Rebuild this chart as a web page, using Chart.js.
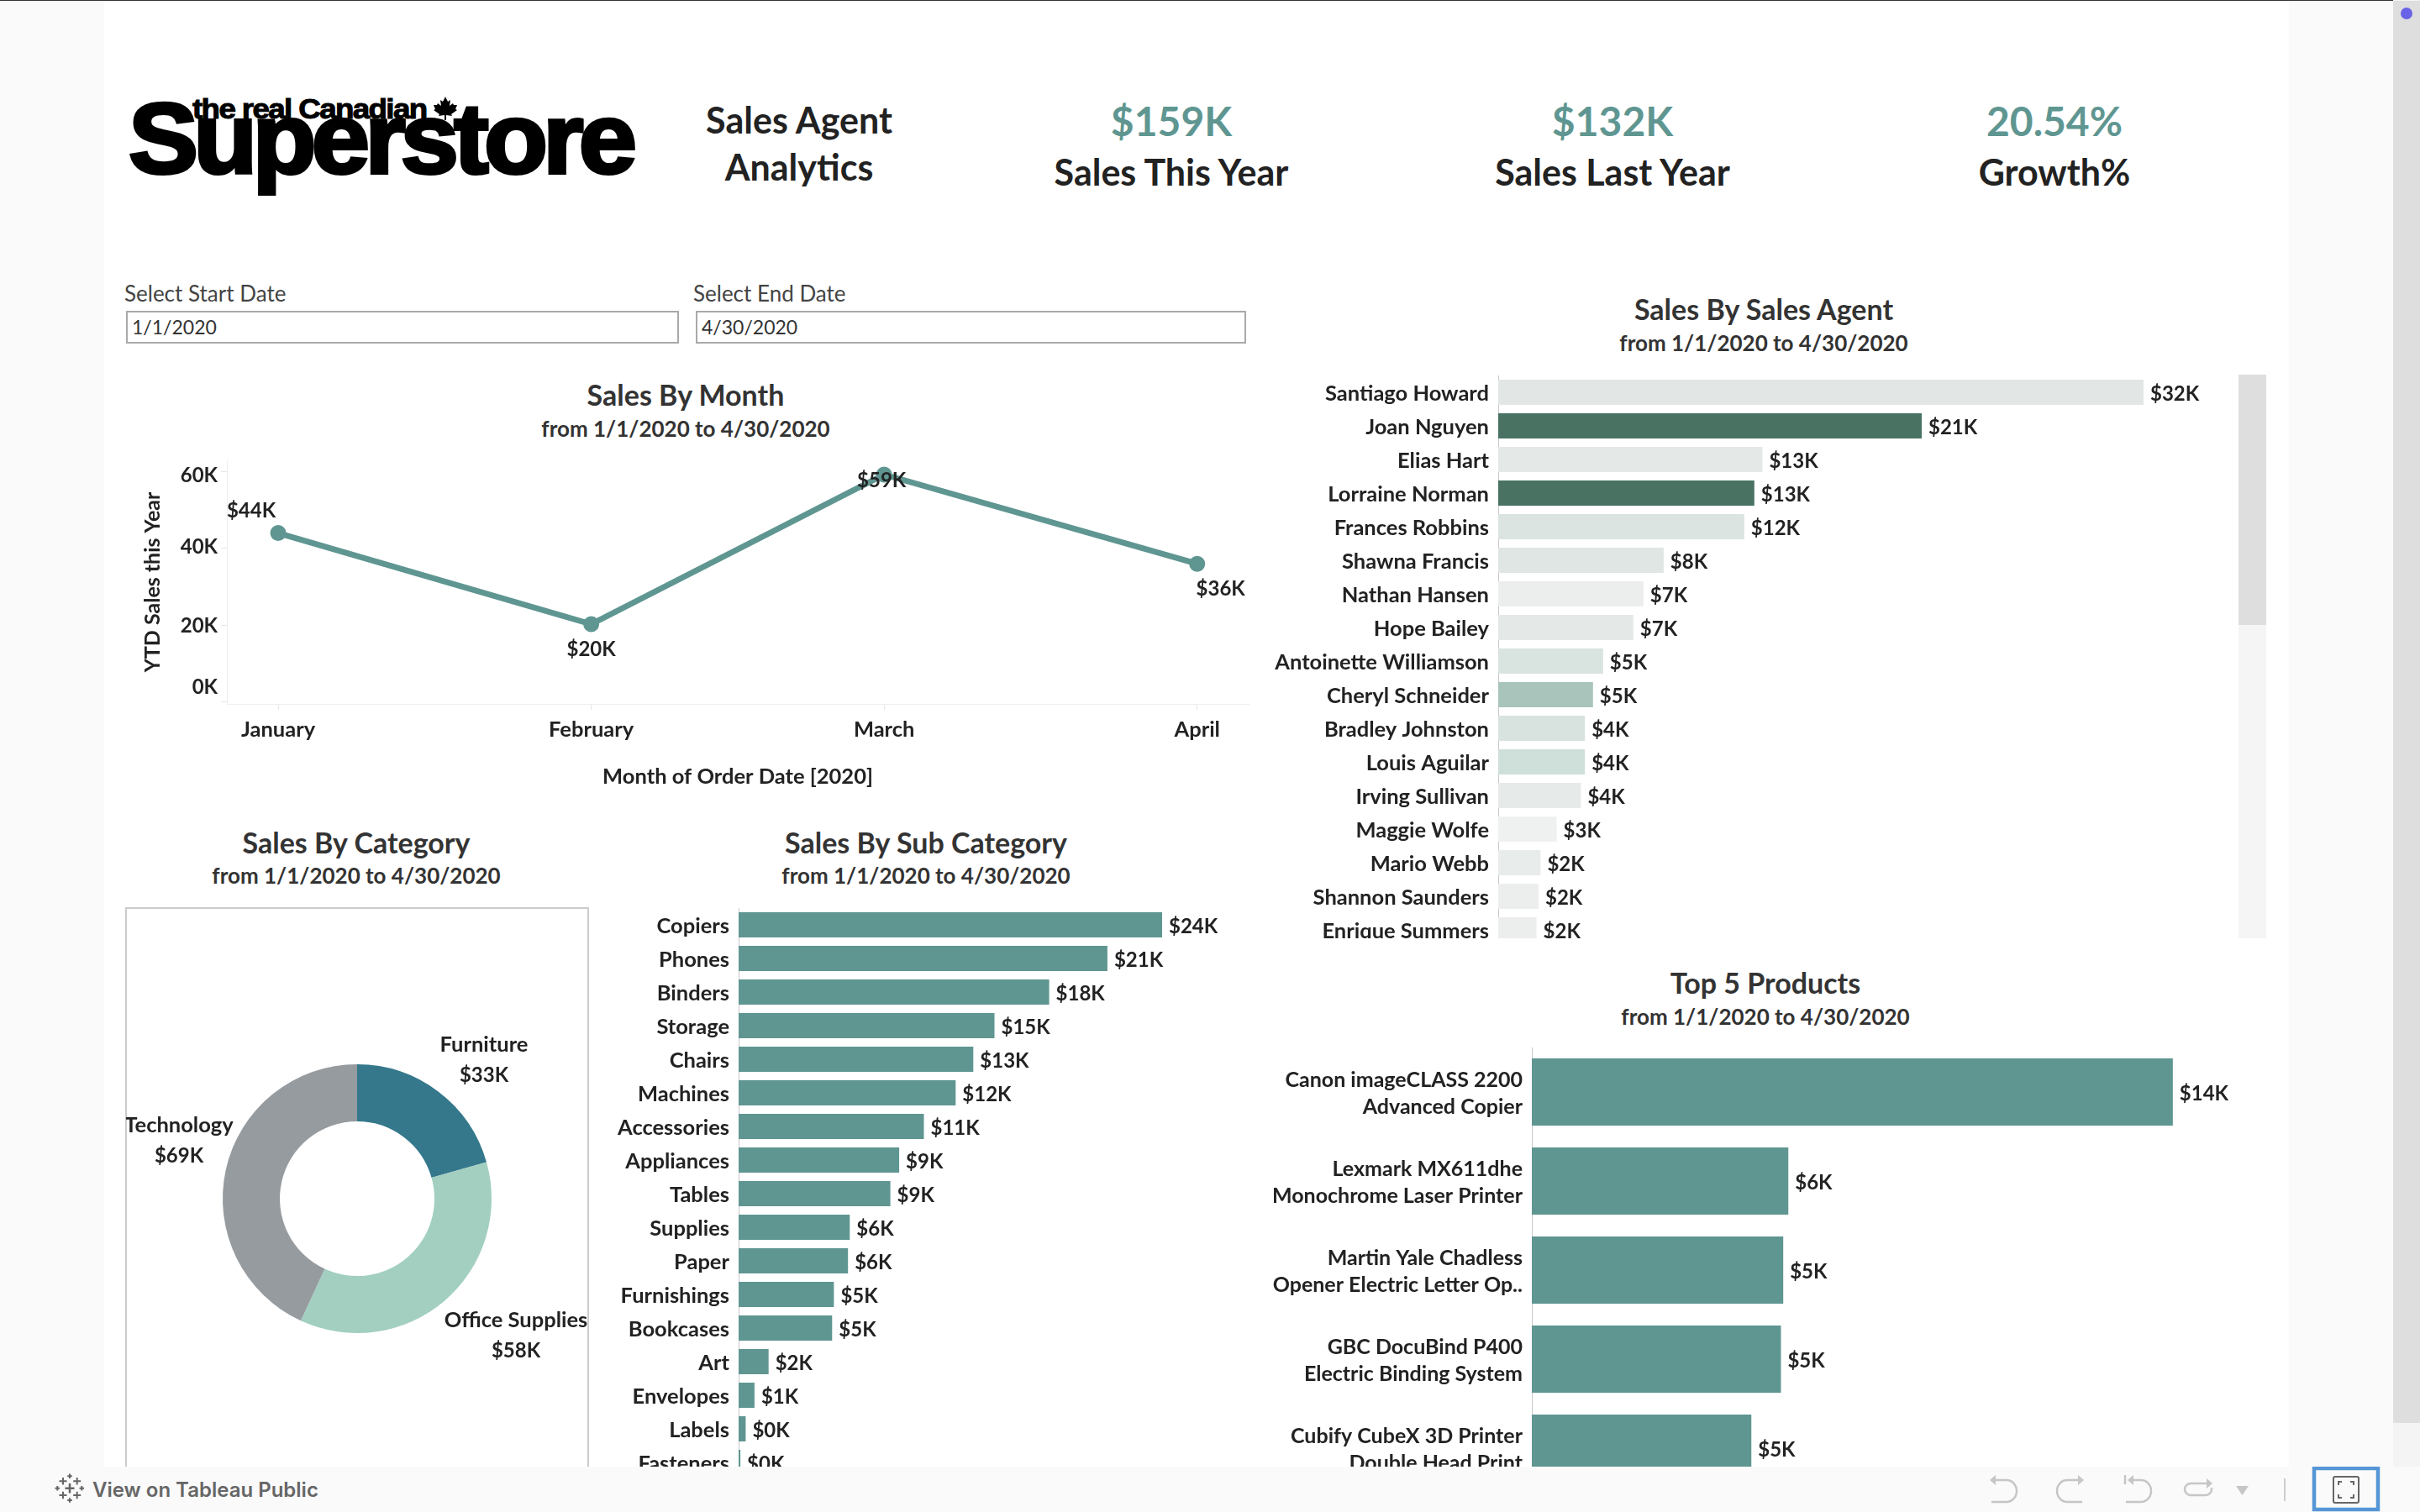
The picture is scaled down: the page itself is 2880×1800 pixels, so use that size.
<!DOCTYPE html>
<html>
<head>
<meta charset="utf-8">
<title>Sales Agent Analytics</title>
<script src="https://cdn.jsdelivr.net/npm/chart.js@4/dist/chart.umd.min.js"></script>
<style>
  html, body { margin: 0; padding: 0; background: #fafafa; }
  body { width: 2880px; height: 1800px; overflow: hidden; position: relative; font-family: Lato, sans-serif; color: #222; }
  #sheet { position: absolute; left: 124px; top: 0; width: 2600px; height: 1746px; background: #fff; }
  #topline { position: absolute; left: 0; top: 0; width: 2880px; height: 1px; background: #333; }
  #scroll { position: absolute; left: 2848px; top: 0; width: 32px; height: 1746px; background: #f4f4f4; }
  #scrollthumb { position: absolute; left: 0; top: 1px; width: 32px; height: 1693px; background: #dedede; }
  #dot { position: absolute; left: 2857px; top: 9px; width: 14px; height: 14px; border-radius: 7px; background: #6a63e8; }
  .t { position: absolute; white-space: nowrap; transform: translate(-50%, calc(-50% - 2px)); }
  .head { font-size: 43px; font-weight: 700; color: #222; }
  .kpi { font-size: 48px; font-weight: 700; color: #5f9691; }
  .title { font-size: 34px; font-weight: 700; color: #333; }
  .sub { font-size: 26px; font-weight: 700; color: #333; }
  .label { position: absolute; font-size: 26px; color: #444; white-space: nowrap; transform: translateY(calc(-50% - 1px)); }
  .box { position: absolute; box-sizing: border-box; border: 2px solid #a9a9a9; height: 39px; top: 370px; font-size: 23px; color: #333; line-height: 35px; padding-left: 5px; }
  .panel { position: absolute; overflow: hidden; }
  canvas { display: block; }
  #catbox { position: absolute; left: 149px; top: 1080px; width: 552px; height: 680px; box-sizing: border-box; border: 2px solid #ccc; }
  #bar1 { position: absolute; left: 2664px; top: 446px; width: 33px; height: 671px; background: #f5f5f5; }
  #bar2 { position: absolute; left: 0; top: 0; width: 33px; height: 298px; background: #dedede; }
  #toolbar { position: absolute; left: 0; top: 1746px; width: 2880px; height: 54px; background: #fafafa; }
  #tableau { position: absolute; left: 110px; top: 27px; transform: translateY(-50%); font: 600 24px Inter, sans-serif; color: #666; white-space: nowrap; }
  #logo1 { position: absolute; left: 153px; top: 97px; font: bold 118px "Liberation Sans", sans-serif; letter-spacing: -5.5px; -webkit-text-stroke: 4px #000; color: #000; line-height: 136px; transform: scaleX(1.055); transform-origin: left center; }
  #logo2 { position: absolute; left: 229px; top: 109px; font: bold 34px "Liberation Sans", sans-serif; letter-spacing: -1.5px; -webkit-text-stroke: 1px #000; color: #000; line-height: 40px; transform: scaleX(1.08); transform-origin: left center; }
</style>
</head>
<body>
<div id="sheet"></div>
<div id="topline"></div>
<div id="scroll"><div id="scrollthumb"></div></div>
<div id="dot"></div>

<div id="logo1">Superstore</div>
<div id="logo2">the real Canadian</div>
<svg style="position:absolute;left:516px;top:115px" width="28" height="28" viewBox="0 0 28 28">
  <path d="M14 0 L17 6 L20 4 L19 11 L23 8 L24 10 L28 10 L26 15 L28 16 L21 21 L22 23 L15 22 L15 28 L13 28 L13 22 L6 23 L7 21 L0 16 L2 15 L0 10 L4 10 L5 8 L9 11 L8 4 L11 6 Z" fill="#000"/>
</svg>

<div class="t head" style="left:951px;top:144px">Sales Agent</div>
<div class="t head" style="left:951px;top:200px">Analytics</div>
<div class="t kpi" style="left:1394px;top:145px">$159K</div>
<div class="t head" style="left:1394px;top:206px">Sales This Year</div>
<div class="t kpi" style="left:1919px;top:145px">$132K</div>
<div class="t head" style="left:1919px;top:206px">Sales Last Year</div>
<div class="t kpi" style="left:2445px;top:145px">20.54%</div>
<div class="t head" style="left:2445px;top:206px">Growth%</div>

<div class="label" style="left:148px;top:350px">Select Start Date</div>
<div class="box" style="left:150px;width:658px">1/1/2020</div>
<div class="label" style="left:825px;top:350px">Select End Date</div>
<div class="box" style="left:828px;width:655px">4/30/2020</div>

<div class="t title" style="left:816px;top:471px">Sales By Month</div>
<div class="t sub" style="left:816px;top:512px">from 1/1/2020 to 4/30/2020</div>
<div class="t title" style="left:2099px;top:369px">Sales By Sales Agent</div>
<div class="t sub" style="left:2099px;top:410px">from 1/1/2020 to 4/30/2020</div>
<div class="t title" style="left:424px;top:1004px">Sales By Category</div>
<div class="t sub" style="left:424px;top:1044px">from 1/1/2020 to 4/30/2020</div>
<div class="t title" style="left:1102px;top:1004px">Sales By Sub Category</div>
<div class="t sub" style="left:1102px;top:1044px">from 1/1/2020 to 4/30/2020</div>
<div class="t title" style="left:2101px;top:1171px">Top 5 Products</div>
<div class="t sub" style="left:2101px;top:1212px">from 1/1/2020 to 4/30/2020</div>

<div class="panel" style="left:150px;top:540px;width:1340px;height:420px"><canvas id="monthChart" width="1340" height="420"></canvas></div>

<div class="panel" style="left:1510px;top:447px;width:1137px;height:670px"><canvas id="agentChart" width="1137" height="680"></canvas></div>
<div id="bar1"><div id="bar2"></div></div>

<div id="catbox"></div>
<div class="panel" style="left:150px;top:1082px;width:550px;height:664px"><canvas id="categoryChart" width="550" height="690"></canvas></div>

<div class="panel" style="left:705px;top:1081px;width:762px;height:665px"><canvas id="subCategoryChart" width="762" height="680"></canvas></div>

<div class="panel" style="left:1500px;top:1247px;width:1203px;height:499px"><canvas id="productChart" width="1203" height="530"></canvas></div>

<div id="toolbar">
  <svg style="position:absolute;left:0;top:0" width="2880" height="54" viewBox="0 0 2880 54">
    <!-- tableau mark -->
    <g stroke="#666" fill="none" stroke-width="2">
      <path stroke-width="2.5" d="M83 20V31.5M77.5 25.7H88.5"/>
      <path d="M75 13V21.5M70.5 17.3H79.5M91.7 13V21.5M87.2 17.3H96.2M75 29.7V38.3M70.5 34H79.5M91.7 29.7V38.3M87.2 34H96.2"/>
      <path d="M83 8.5V14M80.2 11.3H85.8M83 37.2V42.8M80.2 40H85.8M68.3 23V28.5M65.5 25.7H71M97.3 23V28.5M94.5 25.7H100"/>
    </g>
    <!-- undo, redo, revert, refresh -->
    <g stroke="#c6c6c6" stroke-width="2.5" fill="none">
      <path d="M2374 16H2388A12 13 0 0 1 2388 42H2370"/>
      <path d="M2473 16H2460A12 13 0 0 0 2460 42H2478"/>
      <path d="M2538 16H2548A12 13 0 0 1 2548 42H2530M2529 10V21"/>
      <path d="M2626 20H2607A7 7 0 0 0 2607 34H2625A7 7 0 0 0 2632 27V25"/>
    </g>
    <g fill="#c6c6c6">
      <path d="M2368 16L2375 10V22Z"/>
      <path d="M2480 16L2473 10V22Z"/>
      <path d="M2532 16L2539 10V22Z"/>
      <path d="M2633 20L2626 14V26Z"/>
      <path d="M2661 23H2676L2668.5 34Z"/>
    </g>
    <path d="M2719 14V41" stroke="#ccc" stroke-width="2"/>
    <!-- full screen button -->
    <rect x="2754" y="2" width="76" height="49" fill="none" stroke="#5596d6" stroke-width="4.5"/>
    <rect x="2777" y="12" width="30" height="31" rx="2" fill="none" stroke="#666" stroke-width="2"/>
    <path d="M2783 22V18H2787M2801 22V18H2797M2783 33V37H2787M2801 33V37H2797" fill="none" stroke="#666" stroke-width="2"/>
  </svg>
  <div id="tableau">View on Tableau Public</div>
</div>

<script>
Chart.defaults.animation = false;
Chart.defaults.responsive = false;
Chart.defaults.font.family = "Lato, sans-serif";

// sales by month (thousands), x is the day offset from Jan 1 so months sit on a time-like axis
var monthLabels = ["January", "February", "March", "April"];
var monthDays = [0, 31, 60, 91];
var monthSales = [44.0, 20.3, 59.2, 36.0];
var monthTicks = [0, 20, 40, 60];

var agentNames = ["Santiago Howard", "Joan Nguyen", "Elias Hart", "Lorraine Norman", "Frances Robbins", "Shawna Francis", "Nathan Hansen", "Hope Bailey", "Antoinette Williamson", "Cheryl Schneider", "Bradley Johnston", "Louis Aguilar", "Irving Sullivan", "Maggie Wolfe", "Mario Webb", "Shannon Saunders", "Enrique Summers"];
var agentSales = [32.0, 21.0, 13.1, 12.7, 12.2, 8.2, 7.2, 6.7, 5.2, 4.7, 4.3, 4.3, 4.1, 2.9, 2.1, 2.0, 1.9];
var agentColors = ["#e2e7e5", "#497263", "#e4e9e7", "#497263", "#dbe4e0", "#dfe6e3", "#eceeed", "#e4e9e7", "#d9e3df", "#a9c4ba", "#d8e3df", "#cfdfd9", "#e6eae8", "#eff1f0", "#e8ecea", "#eceeed", "#eceeed"];

var categoryNames = ["Furniture", "Office Supplies", "Technology"];
var categorySales = [33, 58, 69];
var categoryColors = ["#35788c", "#a2cfc0", "#959b9f"];

var subCategoryNames = ["Copiers", "Phones", "Binders", "Storage", "Chairs", "Machines", "Accessories", "Appliances", "Tables", "Supplies", "Paper", "Furnishings", "Bookcases", "Art", "Envelopes", "Labels", "Fasteners"];
var subCategorySales = [24.0, 20.9, 17.6, 14.5, 13.3, 12.3, 10.5, 9.1, 8.6, 6.3, 6.2, 5.4, 5.3, 1.7, 0.9, 0.4, 0.1];

var productNames = [["Canon imageCLASS 2200", "Advanced Copier"], ["Lexmark MX611dhe", "Monochrome Laser Printer"], ["Martin Yale Chadless", "Opener Electric Letter Op.."], ["GBC DocuBind P400", "Electric Binding System"], ["Cubify CubeX 3D Printer", "Double Head Print"]];
var productSales = [13.87, 5.55, 5.44, 5.39, 4.75];

var teal = "#5f9691";
var valueFont = "bold 24px Lato, sans-serif";
var labelFont = "bold 25.5px Lato, sans-serif";
var tickFont = { size: 25.5, weight: "bold" };

function money(v) {
  return "$" + Math.round(v) + "K";
}

// writes the value to the right of each horizontal bar
var barValueLabels = {
  id: "barValueLabels",
  afterDatasetsDraw: function(chart) {
    var ctx = chart.ctx;
    var meta = chart.getDatasetMeta(0);
    ctx.save();
    ctx.font = valueFont;
    ctx.fillStyle = "#222";
    ctx.textBaseline = "middle";
    meta.data.forEach(function(bar, i) {
      ctx.fillText(money(chart.data.datasets[0].data[i]), bar.x + 8, bar.y + 2);
    });
    ctx.restore();
  }
};

function barChart(id, names, values, colors, axisWidth, maxValue, barShare, fontSize, lineHeight) {
  return new Chart(document.getElementById(id), {
    type: "bar",
    data: {
      labels: names,
      datasets: [{
        data: values,
        backgroundColor: colors,
        barPercentage: barShare,
        categoryPercentage: 1
      }]
    },
    options: {
      indexAxis: "y",
      plugins: { legend: { display: false }, tooltip: { enabled: false } },
      scales: {
        x: { display: false, min: 0, max: maxValue },
        y: {
          // fixed label column, and no extra room above and below the rows
          afterFit: function(s) {
            s.width = axisWidth;
            s.paddingTop = 0;
            s.paddingBottom = 0;
          },
          grid: { display: false },
          border: { color: "#c8c8c8", dash: [2, 2] },
          ticks: {
            color: "#222",
            padding: 3,
            labelOffset: 2,
            autoSkip: false,
            font: { size: fontSize, weight: "bold", lineHeight: lineHeight }
          }
        }
      }
    },
    plugins: [barValueLabels]
  });
}

barChart("agentChart", agentNames, agentSales, agentColors, 273, 36, 0.75, 25.5, 1.2);
barChart("subCategoryChart", subCategoryNames, subCategorySales, teal, 174, 28, 0.75, 25.5, 1.2);
barChart("productChart", productNames, productSales, teal, 323, 16, 0.755, 25, 1.28);

// offsets of the month labels from their points, and y tick labels kept inside the plot
var monthLabelOffsets = [[-32, -26], [0, 30], [-3, 7], [28, 30]];
var monthTickShift = [-18, 1, -2, 5];

var monthLabelsPlugin = {
  id: "monthLabelsPlugin",
  afterDatasetsDraw: function(chart) {
    var ctx = chart.ctx;
    var meta = chart.getDatasetMeta(0);
    var y = chart.scales.y;
    ctx.save();
    ctx.font = valueFont;
    ctx.fillStyle = "#222";
    ctx.textBaseline = "middle";
    ctx.textAlign = "center";
    meta.data.forEach(function(pt, i) {
      ctx.fillText(money(monthSales[i]), pt.x + monthLabelOffsets[i][0], pt.y + monthLabelOffsets[i][1]);
    });
    ctx.textAlign = "right";
    monthTicks.forEach(function(v, i) {
      ctx.fillText(v + "K", y.right - 11, y.getPixelForValue(v) + monthTickShift[i]);
    });
    ctx.restore();
  }
};

new Chart(document.getElementById("monthChart"), {
  type: "line",
  data: {
    datasets: [{
      data: monthDays.map(function(d, i) { return { x: d, y: monthSales[i] }; }),
      borderColor: teal,
      backgroundColor: teal,
      borderWidth: 7,
      pointRadius: 6,
      tension: 0
    }]
  },
  options: {
    layout: { autoPadding: false, padding: { top: 8, right: 4 } },
    plugins: { legend: { display: false }, tooltip: { enabled: false } },
    scales: {
      x: {
        type: "linear",
        min: -5.08,
        max: 96.1,
        afterFit: function(s) {
          s.height = 122;
          s.paddingLeft = 0;
          s.paddingRight = 0;
        },
        afterBuildTicks: function(s) { s.ticks = monthDays.map(function(d) { return { value: d }; }); },
        grid: { drawOnChartArea: false, tickLength: 7, color: "#e6e6e6" },
        border: { color: "#efefef" },
        ticks: {
          color: "#222",
          padding: 8,
          autoSkip: false,
          maxRotation: 0,
          font: tickFont,
          callback: function(v) { return monthLabels[monthDays.indexOf(v)]; }
        },
        title: {
          display: true,
          text: "Month of Order Date [2020]",
          color: "#222",
          font: tickFont,
          padding: { top: 0, bottom: 20 }
        }
      },
      y: {
        min: -0.44,
        max: 62.9,
        afterFit: function(s) {
          s.width = 120;
          s.paddingTop = 0;
          s.paddingBottom = 0;
        },
        afterBuildTicks: function(s) { s.ticks = monthTicks.map(function(v) { return { value: v }; }); },
        grid: { drawOnChartArea: false, tickLength: 7, color: "#e6e6e6" },
        border: { color: "#efefef" },
        ticks: { display: false },
        title: {
          display: true,
          text: "YTD Sales this Year",
          color: "#222",
          font: { size: 25, weight: "bold" },
          padding: { top: 17, bottom: 0 }
        }
      }
    }
  },
  plugins: [monthLabelsPlugin]
});

// name and value beside each slice, offset from the ring centre
var categoryLabelOffsets = [[151, -165], [189, 163], [-212, -69]];

var categoryLabelsPlugin = {
  id: "categoryLabelsPlugin",
  afterDatasetsDraw: function(chart) {
    var ctx = chart.ctx;
    var arc = chart.getDatasetMeta(0).data[0];
    ctx.save();
    ctx.font = labelFont;
    ctx.fillStyle = "#222";
    ctx.textBaseline = "middle";
    ctx.textAlign = "center";
    categoryNames.forEach(function(name, i) {
      var x = arc.x + categoryLabelOffsets[i][0];
      var y = arc.y + categoryLabelOffsets[i][1];
      ctx.fillText(name, x, y - 18);
      ctx.font = valueFont;
      ctx.fillText(money(categorySales[i]), x, y + 18);
      ctx.font = labelFont;
    });
    ctx.restore();
  }
};

new Chart(document.getElementById("categoryChart"), {
  type: "doughnut",
  data: {
    labels: categoryNames,
    datasets: [{
      data: categorySales,
      backgroundColor: categoryColors,
      borderWidth: 0
    }]
  },
  options: {
    radius: 160,
    cutout: "57.5%",
    plugins: { legend: { display: false }, tooltip: { enabled: false } }
  },
  plugins: [categoryLabelsPlugin]
});
</script>
</body>
</html>
